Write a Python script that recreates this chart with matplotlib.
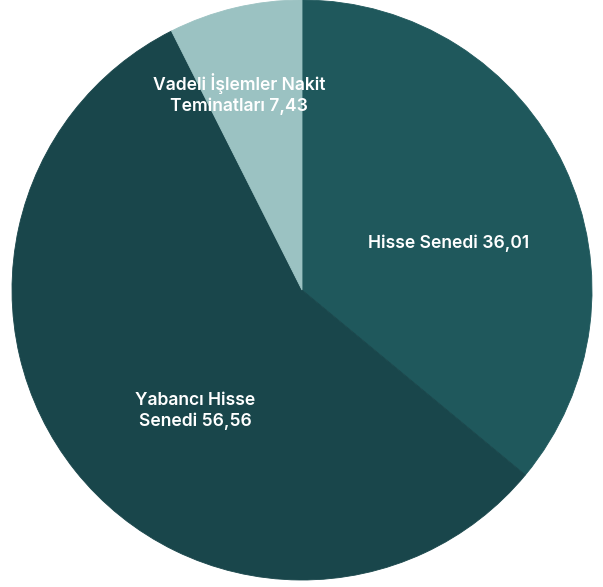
import matplotlib.pyplot as plt

labels = ['Hisse Senedi', 'Yabancı Hisse\nSenedi', 'Vadeli İşlemler Nakit\nTeminatları']
values = [36.01, 56.56, 7.43]
colors = ['#1f585c', '#19464b', '#9bc2c2']

# where each label sits (data coords of the pie axes)
label_pos = [(0.507, 0.162), (-0.369, -0.417), (-0.217, 0.676)]

plt.rcParams['font.family'] = ['Inter', 'DejaVu Sans']

fig = plt.figure(figsize=(6.03, 5.87), dpi=100)
ax = fig.add_axes([12 / 603, 7 / 587, 580 / 603, 580 / 587])

wedges, _ = ax.pie(values, colors=colors, startangle=90, counterclock=False,
                   radius=1, wedgeprops={'linewidth': 0.6})
for w in wedges:
    w.set_edgecolor(w.get_facecolor())

for lab, val, (x, y) in zip(labels, values, label_pos):
    txt = '{} {}'.format(lab, '{:.2f}'.format(val).replace('.', ','))
    ax.text(x, y, txt, ha='center', va='center', color='white',
            fontsize=12.6, fontweight='semibold', linespacing=1.2)

ax.set_xlim(-1, 1)
ax.set_ylim(-1, 1)
ax.set_aspect('equal')
ax.axis('off')

fig.savefig('out.png', dpi=100)
